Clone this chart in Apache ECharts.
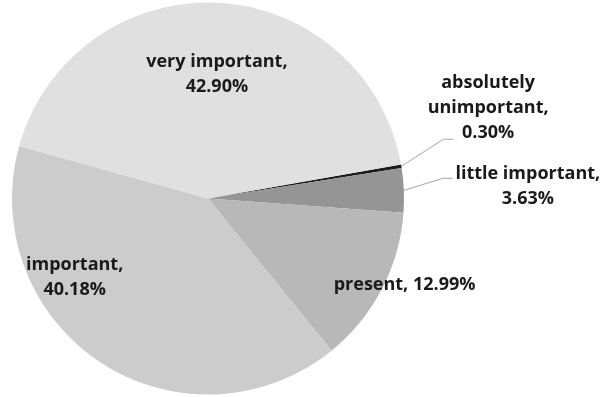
<!DOCTYPE html>
<html>
<head>
<meta charset="utf-8">
<script src="https://cdn.jsdelivr.net/npm/echarts@6/dist/echarts.min.js"></script>
<style>
  html, body { margin: 0; padding: 0; background: #ffffff; }
  #chart { width: 604px; height: 397px; }
</style>
</head>
<body>
<div id="chart"></div>
<script>
// Shares of answers, in clockwise order from the thin dark slice
const categories = ['absolutely unimportant', 'little important', 'present', 'important', 'very important'];
const shares = [0.30, 3.63, 12.99, 40.18, 42.90];

// How each label wraps: the name as printed and whether the value sits on its own line
const labelNames = ['absolutely\nunimportant', 'little important', 'present', 'important', 'very important'];
const valueOnNewLine = [true, true, false, true, true];
const labelInside = [false, false, true, true, true];

const sliceColors = ['#1c1c1c', '#959595', '#b8b8b8', '#cccccc', '#e0e0e0'];

// Label nudges from the library's default spot, and leader-line bends
// measured from the point where the line leaves the slice edge
const labelShift = [[52, -56], [89, -3], [107, 40], [-78, -6], [4, -23]];
const leaderBend = [[[42, -27], [52, -27]], [[39, -12], [49, -12]], null, null, null];

const chart = echarts.init(document.getElementById('chart'), null, { renderer: 'canvas' });

const pieData = categories.map(function (name, i) {
  const item = {
    name: name,
    value: shares[i],
    itemStyle: { color: sliceColors[i] },
    label: { position: labelInside[i] ? 'inside' : 'outside' }
  };
  if (labelInside[i]) item.labelLine = { show: false };
  return item;
});

chart.setOption({
  animation: false,
  backgroundColor: '#ffffff',
  series: [{
    type: 'pie',
    center: [208, 198.5],
    radius: 196,
    startAngle: 10,
    clockwise: true,
    avoidLabelOverlap: false,
    silent: true,
    emphasis: { disabled: true },
    itemStyle: { borderWidth: 0 },
    label: {
      show: true,
      color: '#1a1a1a',
      fontFamily: 'Open Sans',
      fontWeight: 'bold',
      fontSize: 18,
      lineHeight: 25,
      align: 'center',
      formatter: function (p) {
        const i = p.dataIndex;
        return labelNames[i] + ',' + (valueOnNewLine[i] ? '\n' : ' ') + shares[i].toFixed(2) + '%';
      }
    },
    labelLine: {
      show: true,
      length: 15,
      length2: 15,
      smooth: false,
      lineStyle: { color: '#a6a6a6', width: 1 }
    },
    labelLayout: function (p) {
      const i = p.dataIndex;
      const out = { dx: labelShift[i][0], dy: labelShift[i][1] };
      if (!labelInside[i]) {
        out.align = 'center';
        const pts = p.labelLinePoints;
        const bend = leaderBend[i];
        if (pts && bend) {
          const a = pts[0];
          out.labelLinePoints = [
            [a[0], a[1]],
            [a[0] + bend[0][0], a[1] + bend[0][1]],
            [a[0] + bend[1][0], a[1] + bend[1][1]]
          ];
        }
      }
      return out;
    },
    data: pieData
  }]
});
</script>
</body>
</html>
